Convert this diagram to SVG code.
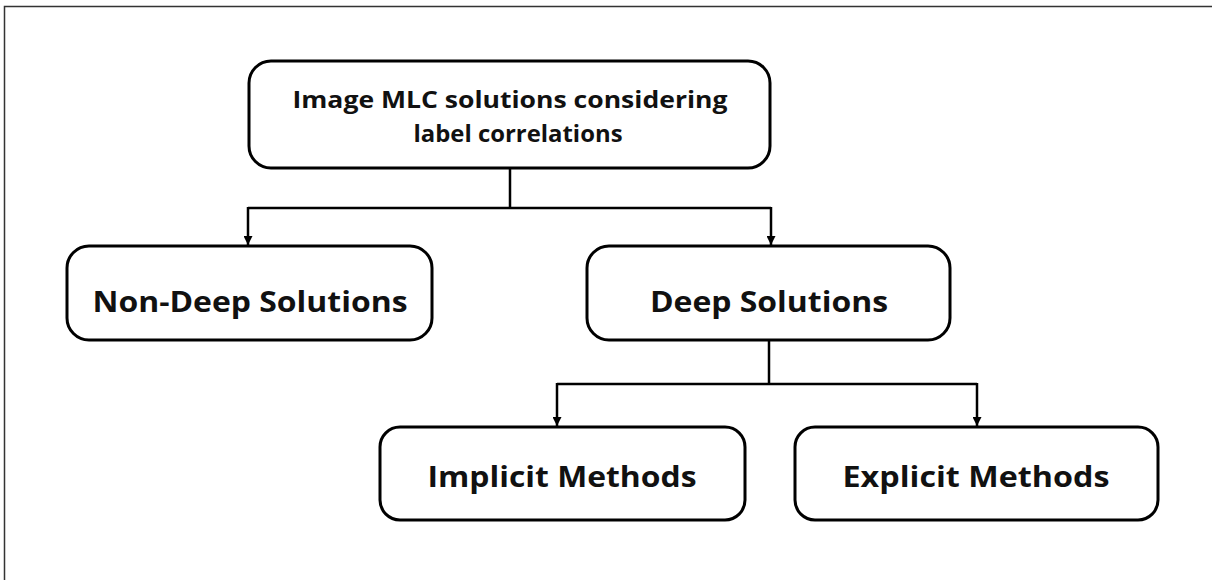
<svg xmlns="http://www.w3.org/2000/svg" width="1212" height="580" viewBox="0 0 1212 580">
  <style>
    .box { fill: #ffffff; stroke: #000000; stroke-width: 3; }
    .lbl { font-family: "Open Sans", Lato, "Liberation Sans", sans-serif; font-weight: bold; fill: #111111; text-anchor: middle; }
    .big { font-size: 29px; }
    .small { font-size: 23px; }
    .wire { fill: none; stroke: #000000; stroke-width: 2.5; }
  </style>
  <defs>
    <marker id="arrow" viewBox="0 0 10 10" refX="10" refY="5" markerWidth="9" markerHeight="9" markerUnits="userSpaceOnUse" orient="auto">
      <path d="M0,0 L10,5 L0,10 Z" fill="#000000"/>
    </marker>
  </defs>

  <rect x="0" y="0" width="1212" height="580" fill="#ffffff"/>
  <!-- outer frame: top and left edges -->
  <path d="M4.5,580 V6.5 H1212" fill="none" stroke="#333333" stroke-width="1.5"/>

  <g id="connectors">
    <path class="wire" d="M510,168 V208"/>
    <path class="wire" d="M248,208 H771"/>
    <path class="wire" d="M248,207 V245" marker-end="url(#arrow)"/>
    <path class="wire" d="M771,207 V245" marker-end="url(#arrow)"/>
    <path class="wire" d="M769,340 V384"/>
    <path class="wire" d="M557,384 H977"/>
    <path class="wire" d="M557,383 V426" marker-end="url(#arrow)"/>
    <path class="wire" d="M977,383 V426" marker-end="url(#arrow)"/>
  </g>

  <g id="root">
    <rect class="box" x="249" y="61" width="521" height="107" rx="22"/>
    <text class="lbl small" x="510" y="108" textLength="435" lengthAdjust="spacingAndGlyphs">Image MLC solutions considering</text>
    <text class="lbl small" x="518" y="142" textLength="209" lengthAdjust="spacingAndGlyphs">label correlations</text>
  </g>

  <g id="non-deep">
    <rect class="box" x="67" y="246" width="365" height="94" rx="22"/>
    <text class="lbl big" x="250" y="312" textLength="315" lengthAdjust="spacingAndGlyphs">Non-Deep Solutions</text>
  </g>

  <g id="deep">
    <rect class="box" x="587" y="246" width="363" height="94" rx="22"/>
    <text class="lbl big" x="769" y="312" textLength="238" lengthAdjust="spacingAndGlyphs">Deep Solutions</text>
  </g>

  <g id="implicit">
    <rect class="box" x="380" y="427" width="365" height="93" rx="20"/>
    <text class="lbl big" x="562" y="487" textLength="269" lengthAdjust="spacingAndGlyphs">Implicit Methods</text>
  </g>

  <g id="explicit">
    <rect class="box" x="795" y="427" width="363" height="93" rx="20"/>
    <text class="lbl big" x="976" y="487" textLength="267" lengthAdjust="spacingAndGlyphs">Explicit Methods</text>
  </g>
</svg>
